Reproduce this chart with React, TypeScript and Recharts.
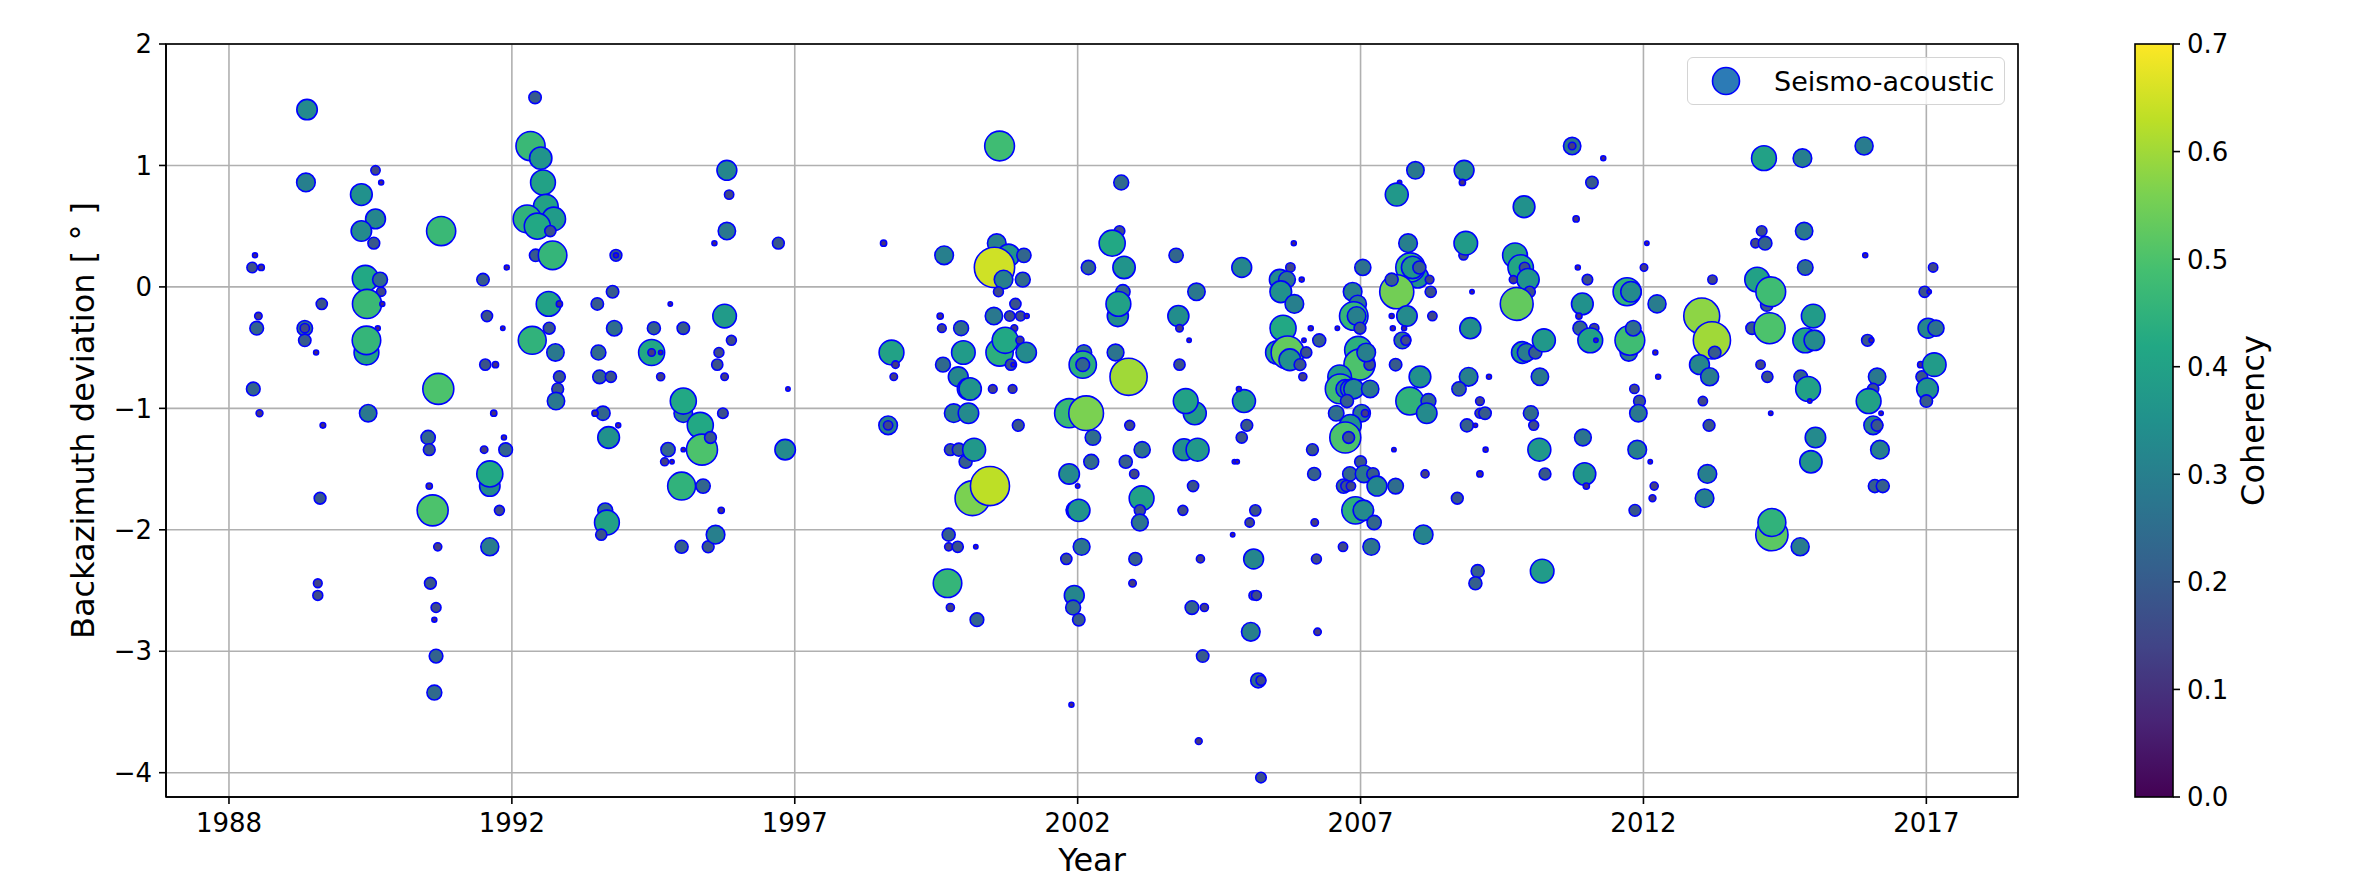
import {
  ScatterChart, Scatter, XAxis, YAxis, CartesianGrid, Legend, Label
} from 'recharts';

// [year, backazimuth deviation (deg), coherency]
const EVENTS_1987_1991 = [
  [1988.38, 1.46, 0.33], [1988.36, 0.86, 0.3], [1987.46, 0.26, 0.08], [1987.41, 0.16, 0.17],
  [1987.57, 0.16, 0.1], [1988.64, -0.14, 0.18], [1987.52, -0.24, 0.12], [1987.49, -0.34, 0.22],
  [1988.34, -0.34, 0.25], [1988.34, -0.34, 0.15], [1988.34, -0.44, 0.2], [1988.54, -0.54, 0.08],
  [1987.43, -0.84, 0.22], [1987.54, -1.04, 0.11], [1988.66, -1.14, 0.09], [1988.61, -1.74, 0.19],
  [1988.57, -2.44, 0.14], [1988.57, -2.54, 0.16],
  [1989.34, 0.76, 0.35], [1989.59, 0.96, 0.15], [1989.69, 0.86, 0.08], [1989.59, 0.56, 0.32],
  [1989.34, 0.46, 0.33], [1989.56, 0.36, 0.19], [1989.41, 0.07, 0.42], [1989.67, 0.06, 0.24],
  [1989.69, -0.04, 0.15], [1989.44, -0.14, 0.47], [1989.71, -0.14, 0.08], [1989.63, -0.34, 0.08],
  [1989.43, -0.54, 0.4], [1989.43, -0.44, 0.46], [1989.46, -1.04, 0.28],
  [1990.75, 0.46, 0.47], [1991.91, 0.16, 0.08], [1991.49, 0.06, 0.2], [1991.56, -0.24, 0.18],
  [1991.84, -0.34, 0.07], [1991.53, -0.64, 0.18], [1991.71, -0.64, 0.1], [1990.7, -0.84, 0.5],
  [1991.68, -1.04, 0.1], [1990.52, -1.24, 0.23], [1990.54, -1.34, 0.19], [1991.86, -1.24, 0.08],
  [1991.51, -1.34, 0.12], [1991.89, -1.34, 0.22], [1991.61, -1.64, 0.33], [1991.61, -1.54, 0.42],
  [1990.54, -1.64, 0.1], [1990.6, -1.84, 0.5], [1991.78, -1.84, 0.16], [1990.69, -2.14, 0.13],
  [1991.61, -2.14, 0.29], [1990.56, -2.44, 0.19], [1990.66, -2.64, 0.16], [1990.63, -2.74, 0.08],
  [1990.66, -3.04, 0.22], [1990.63, -3.34, 0.24],
];

const EVENTS_1992_1998 = [
  [1992.41, 1.56, 0.2], [1992.33, 1.16, 0.47], [1992.51, 1.06, 0.36], [1992.55, 0.86, 0.4],
  [1992.6, 0.66, 0.4], [1992.27, 0.56, 0.45], [1992.74, 0.56, 0.38], [1992.45, 0.5, 0.42],
  [1992.42, 0.26, 0.2], [1992.68, 0.46, 0.18], [1992.72, 0.26, 0.46], [1992.65, -0.14, 0.4],
  [1992.84, -0.14, 0.1], [1992.66, -0.34, 0.19], [1992.36, -0.44, 0.45], [1992.77, -0.54, 0.28],
  [1992.84, -0.74, 0.19], [1992.81, -0.84, 0.19], [1992.78, -0.94, 0.28],
  [1993.84, 0.26, 0.19], [1993.84, 0.26, 0.08], [1993.78, -0.04, 0.2], [1993.51, -0.14, 0.2],
  [1993.81, -0.34, 0.25], [1993.53, -0.54, 0.24], [1993.55, -0.74, 0.22], [1993.75, -0.74, 0.18],
  [1993.61, -1.04, 0.23], [1993.47, -1.04, 0.1], [1993.88, -1.14, 0.08], [1993.71, -1.24, 0.35],
  [1993.65, -1.84, 0.24], [1993.68, -1.94, 0.4], [1993.58, -2.04, 0.18],
  [1994.51, -0.34, 0.21], [1995.03, -0.34, 0.2], [1994.8, -0.14, 0.07], [1994.47, -0.54, 0.42],
  [1994.47, -0.54, 0.12], [1994.63, -0.54, 0.07], [1994.63, -0.74, 0.13], [1995.03, -1.04, 0.3],
  [1995.03, -0.94, 0.42], [1995.33, -1.14, 0.42], [1995.36, -1.34, 0.5], [1995.51, -1.24, 0.19],
  [1994.76, -1.34, 0.23], [1995.03, -1.34, 0.07], [1994.7, -1.44, 0.13], [1994.83, -1.44, 0.07],
  [1995.0, -1.64, 0.45], [1995.38, -1.64, 0.23], [1995.0, -2.14, 0.21], [1995.47, -2.14, 0.19],
  [1995.6, -2.04, 0.3], [1995.7, -1.84, 0.1],
  [1995.8, 0.96, 0.32], [1995.84, 0.76, 0.15], [1995.8, 0.46, 0.28], [1995.58, 0.36, 0.08],
  [1995.76, -0.24, 0.38], [1995.88, -0.44, 0.16], [1995.66, -0.54, 0.16], [1995.63, -0.64, 0.18],
  [1995.76, -0.74, 0.12], [1995.73, -1.04, 0.17],
  [1996.71, 0.36, 0.19], [1996.88, -0.84, 0.07], [1996.83, -1.34, 0.33],
  [1998.57, 0.36, 0.1], [1998.71, -0.54, 0.4], [1998.78, -0.64, 0.12], [1998.75, -0.74, 0.12],
  [1998.65, -1.14, 0.3], [1998.65, -1.14, 0.15],
];

const EVENTS_1999_2002 = [
  [2000.62, 1.16, 0.48], [1999.64, 0.26, 0.3], [2000.57, 0.36, 0.3], [2000.78, 0.26, 0.36],
  [2001.05, 0.26, 0.23], [2000.53, 0.16, 0.65], [2000.69, 0.06, 0.3], [2001.03, 0.06, 0.24],
  [2000.6, -0.04, 0.16], [2000.9, -0.14, 0.18], [1999.57, -0.24, 0.1], [1999.6, -0.34, 0.14],
  [1999.94, -0.34, 0.24], [2000.52, -0.24, 0.28], [2000.8, -0.24, 0.17], [2000.99, -0.24, 0.16],
  [2001.1, -0.24, 0.08], [2000.88, -0.34, 0.11], [1999.98, -0.54, 0.38], [2000.62, -0.54, 0.44],
  [2000.72, -0.44, 0.42], [2000.98, -0.44, 0.13], [2001.09, -0.54, 0.33], [2000.82, -0.64, 0.18],
  [2000.86, -0.64, 0.07], [1999.62, -0.64, 0.24], [1999.89, -0.74, 0.32], [2000.06, -0.84, 0.34],
  [2000.1, -0.84, 0.36], [2000.5, -0.84, 0.14], [2000.85, -0.84, 0.14], [1999.81, -1.04, 0.3],
  [2000.07, -1.04, 0.33], [2000.95, -1.14, 0.19], [1999.75, -1.34, 0.19], [1999.9, -1.34, 0.21],
  [2000.02, -1.44, 0.21], [2000.17, -1.34, 0.37], [2000.14, -1.74, 0.56], [2000.45, -1.64, 0.63],
  [1999.72, -2.04, 0.21], [1999.72, -2.14, 0.13], [1999.88, -2.14, 0.18], [2000.2, -2.14, 0.07],
  [1999.7, -2.44, 0.46], [1999.75, -2.64, 0.13], [2000.22, -2.74, 0.22],
  [2002.19, 0.16, 0.23], [2002.11, -0.54, 0.25], [2002.09, -0.64, 0.44], [2002.09, -0.64, 0.22],
  [2001.85, -1.04, 0.47], [2002.15, -1.04, 0.56], [2002.27, -1.24, 0.25], [2002.24, -1.44, 0.24],
  [2001.85, -1.54, 0.33], [2002.0, -1.64, 0.07], [2001.96, -1.84, 0.3], [2002.02, -1.84, 0.36],
  [2002.07, -2.14, 0.27], [2001.8, -2.24, 0.18], [2001.94, -2.54, 0.32], [2001.92, -2.64, 0.24],
  [2002.02, -2.74, 0.2], [2001.89, -3.44, 0.08],
];

const EVENTS_2002_2005 = [
  [2002.77, 0.86, 0.24], [2002.74, 0.46, 0.17], [2002.61, 0.36, 0.42], [2002.82, 0.16, 0.36],
  [2002.8, -0.04, 0.23], [2002.71, -0.24, 0.34], [2002.72, -0.14, 0.4], [2002.67, -0.54, 0.27],
  [2002.9, -0.74, 0.6], [2003.74, 0.26, 0.23], [2004.1, -0.04, 0.28], [2003.78, -0.24, 0.34],
  [2003.8, -0.34, 0.12], [2003.97, -0.44, 0.07], [2003.8, -0.64, 0.18], [2004.07, -1.04, 0.37],
  [2003.91, -0.94, 0.4], [2002.92, -1.14, 0.16], [2003.14, -1.34, 0.26], [2002.85, -1.44, 0.21],
  [2003.0, -1.54, 0.15], [2003.13, -1.74, 0.4], [2003.1, -1.84, 0.18], [2003.1, -1.94, 0.27],
  [2003.88, -1.34, 0.35], [2004.12, -1.34, 0.37], [2004.04, -1.64, 0.18], [2003.86, -1.84, 0.16],
  [2003.02, -2.24, 0.21], [2002.97, -2.44, 0.12], [2004.17, -2.24, 0.13], [2004.02, -2.64, 0.22],
  [2004.24, -2.64, 0.13], [2004.21, -3.04, 0.2], [2004.14, -3.74, 0.11],
  [2004.9, 0.16, 0.32], [2004.94, -0.94, 0.37], [2004.85, -0.84, 0.08], [2004.99, -1.14, 0.19],
  [2004.9, -1.24, 0.18], [2004.77, -1.44, 0.07], [2004.82, -1.44, 0.07], [2004.74, -2.04, 0.07],
  [2005.14, -1.84, 0.18], [2005.04, -1.94, 0.15], [2005.11, -2.24, 0.32], [2005.11, -2.54, 0.15],
  [2005.16, -2.54, 0.16], [2005.06, -2.84, 0.3], [2005.19, -3.24, 0.24], [2005.24, -3.24, 0.16],
  [2005.24, -4.04, 0.17],
  [2005.57, 0.06, 0.33], [2005.76, 0.16, 0.15], [2005.7, 0.06, 0.27], [2005.59, -0.04, 0.35],
  [2005.83, -0.14, 0.3], [2005.63, -0.34, 0.42], [2005.53, -0.54, 0.38], [2005.71, -0.54, 0.53],
  [2005.75, -0.6, 0.35], [2005.82, 0.36, 0.08],
];

const EVENTS_2006_2009 = [
  [2005.96, 0.06, 0.08], [2006.12, -0.34, 0.08], [2006.27, -0.44, 0.21], [2006.0, -0.44, 0.07],
  [2006.04, -0.54, 0.18], [2005.93, -0.64, 0.19], [2005.98, -0.74, 0.13], [2006.15, -1.34, 0.19],
  [2006.18, -1.54, 0.21], [2006.19, -1.94, 0.12], [2006.22, -2.24, 0.16], [2006.24, -2.84, 0.12],
  [2007.04, 0.16, 0.26], [2006.86, -0.04, 0.3], [2006.95, -0.14, 0.28], [2006.88, -0.24, 0.46],
  [2006.93, -0.24, 0.3], [2006.99, -0.34, 0.19], [2006.96, -0.52, 0.44], [2006.98, -0.64, 0.5],
  [2007.16, -0.64, 0.18], [2007.1, -0.54, 0.3], [2006.63, -0.74, 0.38], [2006.64, -0.84, 0.48],
  [2006.73, -0.84, 0.3], [2006.81, -0.84, 0.3], [2006.88, -0.84, 0.32], [2007.17, -0.84, 0.28],
  [2006.76, -0.94, 0.21], [2006.57, -1.04, 0.25], [2007.02, -1.04, 0.28], [2007.08, -1.04, 0.12],
  [2006.82, -1.14, 0.35], [2006.73, -1.24, 0.5], [2006.79, -1.24, 0.19], [2007.0, -1.44, 0.19],
  [2006.81, -1.54, 0.23], [2007.06, -1.54, 0.28], [2007.22, -1.54, 0.2], [2006.7, -1.64, 0.23],
  [2006.75, -1.64, 0.18], [2006.83, -1.64, 0.15], [2007.29, -1.64, 0.32], [2007.62, -1.64, 0.25],
  [2006.91, -1.84, 0.44], [2007.05, -1.84, 0.33], [2007.24, -1.94, 0.23], [2006.69, -2.14, 0.15],
  [2007.19, -2.14, 0.27], [2006.59, -0.34, 0.07],
  [2007.97, 0.96, 0.28], [2007.69, 0.86, 0.07], [2007.64, 0.76, 0.37], [2007.84, 0.36, 0.3],
  [2008.01, 0.08, 0.35], [2007.88, 0.16, 0.47], [2007.92, 0.16, 0.36], [2008.04, 0.16, 0.21],
  [2007.64, -0.04, 0.55], [2007.55, 0.06, 0.21], [2008.22, 0.06, 0.14], [2008.24, -0.04, 0.18],
  [2007.82, -0.24, 0.33], [2007.55, -0.24, 0.08], [2007.57, -0.34, 0.08], [2007.77, -0.34, 0.08],
  [2007.74, -0.44, 0.27], [2007.8, -0.44, 0.16], [2008.27, -0.24, 0.15], [2007.62, -0.64, 0.2],
  [2008.05, -0.74, 0.35], [2007.87, -0.94, 0.45], [2008.2, -0.94, 0.24], [2008.17, -1.04, 0.33],
  [2007.59, -1.34, 0.07], [2008.14, -1.54, 0.13], [2008.11, -2.04, 0.31],
  [2008.83, 0.96, 0.32], [2008.8, 0.86, 0.1], [2008.82, 0.26, 0.15], [2008.86, 0.36, 0.38],
  [2008.97, -0.04, 0.07], [2008.94, -0.34, 0.34], [2008.91, -0.74, 0.3], [2008.74, -0.84, 0.23],
  [2008.88, -1.14, 0.21], [2009.03, -1.14, 0.07], [2009.11, -0.94, 0.14], [2009.11, -1.04, 0.16],
  [2009.11, -1.54, 0.1], [2008.71, -1.74, 0.19], [2009.07, -2.34, 0.21], [2009.03, -2.44, 0.21],
];

const EVENTS_2009_2012 = [
  [2010.74, 1.16, 0.28], [2010.74, 1.16, 0.12], [2011.29, 1.06, 0.08], [2011.09, 0.86, 0.2],
  [2009.89, 0.66, 0.35], [2010.81, 0.56, 0.1], [2009.73, 0.26, 0.4], [2009.83, 0.16, 0.41],
  [2009.9, 0.16, 0.17], [2009.96, 0.06, 0.36], [2009.7, 0.06, 0.13], [2009.81, -0.04, 0.1],
  [2009.99, -0.04, 0.18], [2009.76, -0.14, 0.53], [2010.84, 0.16, 0.08], [2011.01, 0.06, 0.17],
  [2010.92, -0.14, 0.35], [2010.86, -0.24, 0.1], [2010.88, -0.34, 0.23], [2011.13, -0.34, 0.15],
  [2011.06, -0.44, 0.4], [2011.16, -0.44, 0.07], [2009.86, -0.54, 0.35], [2009.93, -0.54, 0.29],
  [2010.09, -0.54, 0.21], [2010.24, -0.44, 0.37], [2010.17, -0.74, 0.28], [2009.27, -0.74, 0.08],
  [2009.2, -1.04, 0.2], [2009.21, -1.34, 0.08], [2010.01, -1.04, 0.24], [2010.06, -1.14, 0.16],
  [2010.16, -1.34, 0.37], [2010.26, -1.54, 0.19], [2010.93, -1.24, 0.27], [2010.96, -1.54, 0.36],
  [2010.99, -1.64, 0.1], [2010.21, -2.34, 0.38],
  [2011.71, -0.04, 0.45], [2011.78, -0.04, 0.33], [2012.06, 0.36, 0.07], [2012.01, 0.16, 0.12],
  [2012.24, -0.14, 0.29], [2011.74, -0.54, 0.28], [2011.76, -0.44, 0.48], [2011.82, -0.34, 0.25],
  [2012.21, -0.54, 0.08], [2012.26, -0.74, 0.08], [2011.84, -0.84, 0.15], [2011.93, -0.94, 0.19],
  [2011.91, -1.04, 0.28], [2011.89, -1.34, 0.3], [2012.12, -1.44, 0.07], [2012.19, -1.64, 0.13],
  [2012.16, -1.74, 0.11], [2011.85, -1.84, 0.19],
];

const EVENTS_2013_2017 = [
  [2014.13, 1.06, 0.4], [2014.81, 1.06, 0.3], [2015.9, 1.16, 0.29], [2014.09, 0.46, 0.17],
  [2013.98, 0.36, 0.15], [2014.15, 0.36, 0.22], [2014.84, 0.46, 0.28], [2014.86, 0.16, 0.25],
  [2013.22, 0.06, 0.15], [2014.01, 0.06, 0.4], [2014.18, -0.15, 0.2], [2014.25, -0.04, 0.48],
  [2013.03, -0.24, 0.58], [2013.21, -0.44, 0.6], [2013.26, -0.54, 0.2], [2012.99, -0.64, 0.32],
  [2013.17, -0.74, 0.29], [2013.05, -0.94, 0.15], [2013.16, -1.14, 0.19], [2013.13, -1.54, 0.3],
  [2013.08, -1.74, 0.3], [2013.92, -0.34, 0.2], [2014.23, -0.34, 0.5], [2014.07, -0.64, 0.15],
  [2014.19, -0.74, 0.18], [2014.25, -1.04, 0.07], [2014.27, -2.04, 0.52], [2014.27, -1.94, 0.45],
  [2014.77, -2.14, 0.29], [2015.0, -0.24, 0.38], [2014.86, -0.44, 0.4], [2015.02, -0.44, 0.33],
  [2014.78, -0.74, 0.22], [2014.91, -0.84, 0.4], [2014.94, -0.94, 0.07], [2015.04, -1.24, 0.33],
  [2014.96, -1.44, 0.36], [2015.92, 0.26, 0.08], [2015.96, -0.44, 0.19], [2016.03, -0.44, 0.08],
  [2016.13, -0.74, 0.28], [2016.06, -0.84, 0.18], [2015.98, -0.94, 0.4], [2016.2, -1.04, 0.07],
  [2016.06, -1.14, 0.3], [2016.13, -1.14, 0.19], [2016.18, -1.34, 0.3], [2016.09, -1.64, 0.21],
  [2016.23, -1.64, 0.21], [2016.97, -0.04, 0.18], [2017.05, -0.04, 0.07], [2017.12, 0.16, 0.15],
  [2017.03, -0.34, 0.32], [2017.17, -0.34, 0.26], [2016.9, -0.64, 0.1], [2016.92, -0.74, 0.19],
  [2017.14, -0.64, 0.38], [2017.02, -0.84, 0.35], [2017.0, -0.94, 0.2],
];

const YEAR_TICKS = [1987, 1992, 1997, 2002, 2007, 2012, 2017];
const YEAR_LABELS = ['1988', '1992', '1997', '2002', '2007', '2012', '2017'];
const DEV_TICKS = [-4, -3, -2, -1, 0, 1, 2];
const COH_TICKS = [0, 0.1, 0.2, 0.3, 0.4, 0.5, 0.6, 0.7];
const COH_MAX = 0.7;

const VIRIDIS = [
  '#440154', '#482475', '#414487', '#355f8d', '#2a788e', '#21918c',
  '#22a884', '#44bf70', '#7ad151', '#bddf26', '#fde725',
];

const FONT = '"DejaVu Sans", sans-serif';
const W = 2364;
const H = 887;
const PLOT = { left: 166, top: 44, right: 2018, bottom: 797 };
const CBAR = { x: 2135, w: 38 };

const hex = (h: string) => [1, 3, 5].map((i) => parseInt(h.slice(i, i + 2), 16));

function viridis(t: number) {
  const v = Math.max(0, Math.min(1, t)) * (VIRIDIS.length - 1);
  const i = Math.min(Math.floor(v), VIRIDIS.length - 2);
  const f = v - i;
  const a = hex(VIRIDIS[i]);
  const b = hex(VIRIDIS[i + 1]);
  const c = a.map((x, k) => Math.round(x + (b[k] - x) * f));
  return `rgb(${c[0]},${c[1]},${c[2]})`;
}

const points = [
  ...EVENTS_1987_1991, ...EVENTS_1992_1998, ...EVENTS_1999_2002, ...EVENTS_2002_2005,
  ...EVENTS_2006_2009, ...EVENTS_2009_2012, ...EVENTS_2013_2017,
].map(([year, dev, coh]) => ({ year, dev, coh }));

function Bubble(props: any) {
  const { cx, cy, payload } = props;
  if (cx == null || cy == null) return null;
  return (
    <circle
      cx={cx}
      cy={cy}
      r={payload.coh * 31}
      fill={viridis(payload.coh / COH_MAX)}
      stroke="#0000ff"
      strokeWidth={1.6}
    />
  );
}

function LegendBox() {
  return (
    <div
      style={{
        boxSizing: 'border-box', width: 318, height: 48, border: '1.5px solid #d4d4d4',
        borderRadius: 6, background: 'rgba(255,255,255,0.8)', display: 'flex',
        alignItems: 'center', fontFamily: FONT, fontSize: 27, color: '#000',
      }}
    >
      <svg width={86} height={48}>
        <circle cx={38} cy={24} r={13.5} fill="#2c7bb6" stroke="#0000ff" strokeWidth={1.6} />
      </svg>
      <span>Seismo-acoustic</span>
    </div>
  );
}

const tickStyle = { fill: '#000', fontSize: 26, fontFamily: FONT };
const fmtDev = (v: number) => (v < 0 ? `\u2212${Math.abs(v)}` : String(v));

// axes frame + colorbar drawn over the chart
function Overlay() {
  const h = PLOT.bottom - PLOT.top;
  const yOf = (v: number) => PLOT.bottom - (v / COH_MAX) * h;
  const midY = (PLOT.top + PLOT.bottom) / 2;
  return (
    <svg width={W} height={H} style={{ position: 'absolute', left: 0, top: 0, pointerEvents: 'none' }}>
      <defs>
        <linearGradient id="viridis" x1="0" y1="1" x2="0" y2="0">
          {VIRIDIS.map((c, i) => (
            <stop key={i} offset={`${(i / (VIRIDIS.length - 1)) * 100}%`} stopColor={c} />
          ))}
        </linearGradient>
      </defs>
      <rect
        x={PLOT.left}
        y={PLOT.top}
        width={PLOT.right - PLOT.left}
        height={h}
        fill="none"
        stroke="#000"
        strokeWidth={1.6}
      />
      <rect x={CBAR.x} y={PLOT.top} width={CBAR.w} height={h} fill="url(#viridis)" stroke="#000" strokeWidth={1.6} />
      {COH_TICKS.map((v) => (
        <g key={v}>
          <line x1={CBAR.x + CBAR.w} x2={CBAR.x + CBAR.w + 7} y1={yOf(v)} y2={yOf(v)} stroke="#000" strokeWidth={1.6} />
          <text x={CBAR.x + CBAR.w + 14} y={yOf(v)} dy="0.36em" fontSize={26} fontFamily={FONT} fill="#000">
            {v.toFixed(1)}
          </text>
        </g>
      ))}
      <text
        x={2252}
        y={midY}
        transform={`rotate(-90 2252 ${midY})`}
        textAnchor="middle"
        dy="0.36em"
        fontSize={32}
        fontFamily={FONT}
        fill="#000"
      >
        Coherency
      </text>
    </svg>
  );
}

export default function App() {
  return (
    <div style={{ position: 'absolute', left: 0, top: 0, width: W, height: H, background: '#fff', fontFamily: FONT }}>
      <ScatterChart
        width={W}
        height={H}
        margin={{ top: PLOT.top, right: W - PLOT.right, bottom: 0, left: 0 }}
      >
        <CartesianGrid stroke="#b0b0b0" strokeWidth={1.6} />
        <XAxis
          type="number"
          dataKey="year"
          domain={[1985.887, 2018.62]}
          ticks={YEAR_TICKS}
          tickFormatter={(_v: number, i: number) => YEAR_LABELS[i]}
          tick={tickStyle}
          tickSize={7}
          tickMargin={10}
          height={H - PLOT.bottom}
          stroke="#000"
          strokeWidth={1.6}
          allowDataOverflow
        >
          <Label value="Year" position="insideBottom" offset={16} style={{ fontSize: 32, fontFamily: FONT, fill: '#000' }} />
        </XAxis>
        <YAxis
          type="number"
          dataKey="dev"
          domain={[-4.2, 2]}
          ticks={DEV_TICKS}
          tickFormatter={fmtDev}
          tick={tickStyle}
          tickSize={7}
          tickMargin={7}
          width={PLOT.left}
          stroke="#000"
          strokeWidth={1.6}
          allowDataOverflow
        >
          <Label
            value="Backazimuth deviation [ ° ]"
            angle={-90}
            position="center"
            style={{ fontSize: 32, fontFamily: FONT, fill: '#000', textAnchor: 'middle' }}
          />
        </YAxis>
        <Legend
          verticalAlign="middle"
          layout="horizontal"
          content={() => <LegendBox />}
          wrapperStyle={{ left: 1687, top: 57, width: 318, height: 48 }}
        />
        <Scatter name="Seismo-acoustic" data={points} shape={Bubble} isAnimationActive={false} />
      </ScatterChart>
      <Overlay />
    </div>
  );
}
